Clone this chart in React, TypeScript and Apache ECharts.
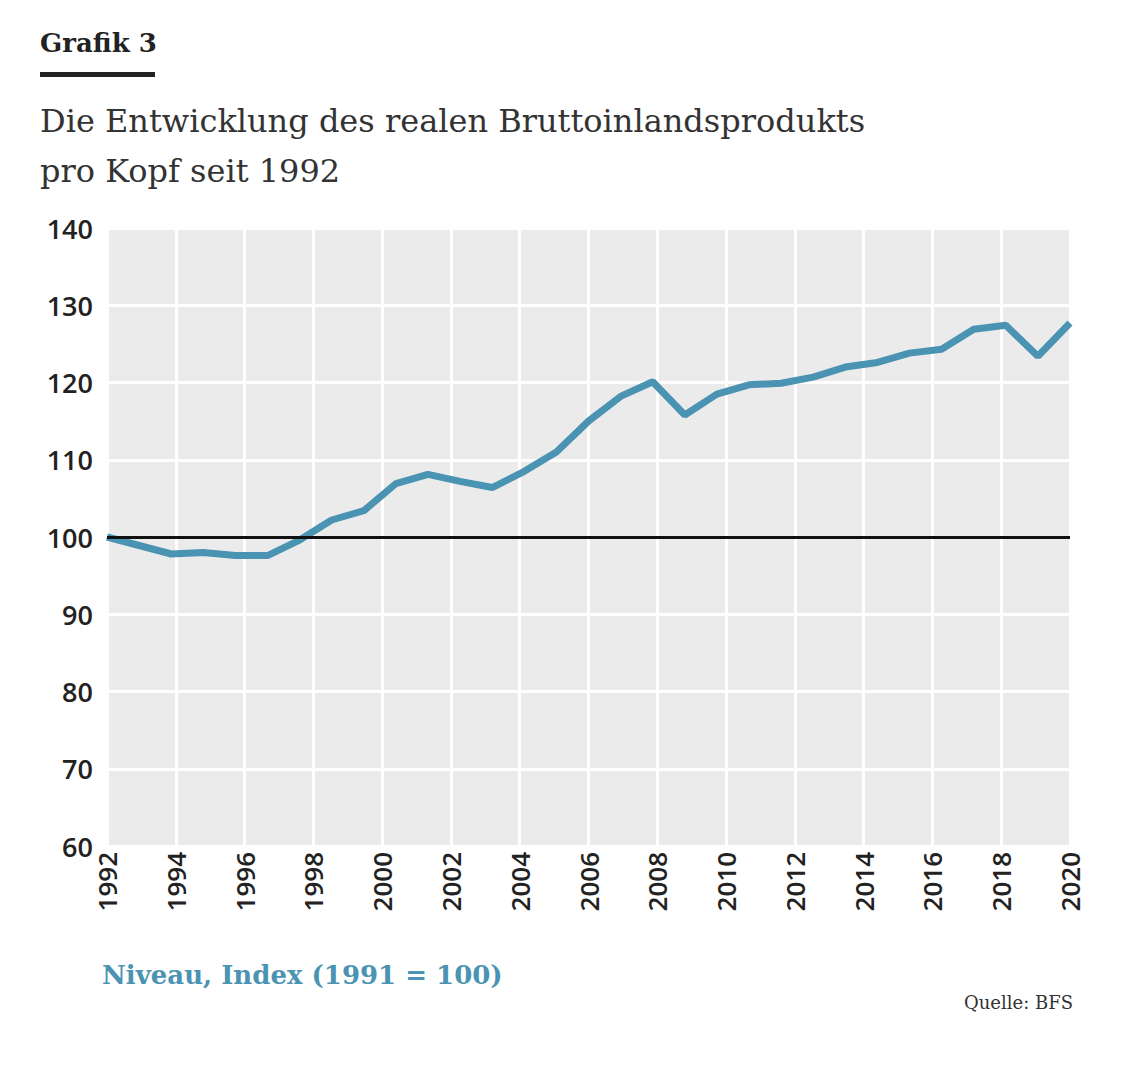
import * as echarts from 'echarts';
import React, { useEffect, useRef } from 'react';

// index level (1991 = 100), evenly spaced from 1992 to 2020
const VALUES = [
  100, 98.9, 97.8, 98.0, 97.6, 97.6, 99.6, 102.2, 103.4, 106.9, 108.1, 107.2,
  106.4, 108.5, 111, 115, 118.2, 120.1, 115.8, 118.5, 119.7, 119.9, 120.7, 122,
  122.6, 123.8, 124.3, 126.9, 127.4, 123.4, 127.7,
];
const START = 1992;
const END = 2020;
const BLUE = '#4a93b2';

export default function App() {
  const ref = useRef<HTMLDivElement>(null);

  useEffect(() => {
    if (!ref.current) return;
    const chart = echarts.init(ref.current, null, { renderer: 'svg' });
    const step = (END - START) / (VALUES.length - 1);
    const data = VALUES.map((v, i) => [START + i * step, v]);

    chart.setOption({
      animation: false,
      backgroundColor: '#fff',
      grid: { left: 107, right: 76, top: 228, bottom: 223, backgroundColor: '#ebebeb', show: true, borderWidth: 0 },
      xAxis: {
        type: 'value', min: START, max: END, interval: 2,
        axisLine: { show: false }, axisTick: { show: false },
        splitLine: { lineStyle: { color: '#fff', width: 3 } },
        axisLabel: { rotate: 90, color: '#222', fontFamily: 'Open Sans', fontWeight: 600, fontSize: 26, margin: 6,
          formatter: (v: number) => String(v) },
      },
      yAxis: {
        type: 'value', min: 60, max: 140, interval: 10,
        axisLine: { show: false }, axisTick: { show: false },
        splitLine: { lineStyle: { color: '#fff', width: 3 } },
        axisLabel: { color: '#222', fontFamily: 'Open Sans', fontWeight: 600, fontSize: 27, margin: 14,
          formatter: (v: number) => String(v) },
      },
      series: [{
        type: 'line', data, showSymbol: false,
        lineStyle: { color: BLUE, width: 7 },
        markLine: {
          symbol: 'none', silent: true, label: { show: false },
          lineStyle: { color: '#111', width: 3, type: 'solid' },
          data: [{ yAxis: 100 }],
        },
        z: 3,
      }],
      graphic: [
        { type: 'text', left: 40, top: 30, style: { text: 'Grafik 3', font: 'bold 26px "DejaVu Serif"', fill: '#222' } },
        { type: 'rect', shape: { x: 40, y: 72, width: 115, height: 5 }, style: { fill: '#222' } },
        { type: 'text', left: 40, top: 96, style: { text: 'Die Entwicklung des realen Bruttoinlandsprodukts\npro Kopf seit 1992', font: '32px "DejaVu Serif"', lineHeight: 50, fill: '#333' } },
        { type: 'text', left: 102, top: 962, style: { text: 'Niveau, Index (1991 = 100)', font: 'bold 26px "DejaVu Serif"', fill: BLUE } },
        { type: 'text', right: 73, top: 993, style: { text: 'Quelle: BFS', font: '18px "DejaVu Serif"', fill: '#333' } },
      ],
    });
    return () => chart.dispose();
  }, []);

  return <div ref={ref} style={{ width: 1146, height: 1069, margin: -8 }} />;
}
